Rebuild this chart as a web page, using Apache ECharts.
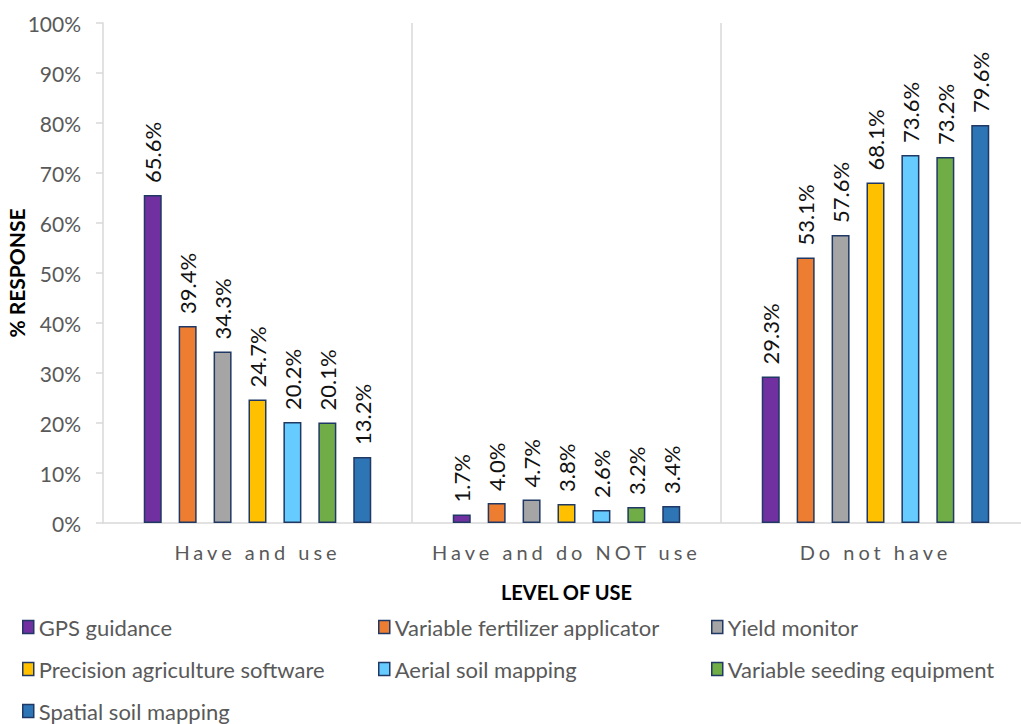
<!DOCTYPE html>
<html><head><meta charset="utf-8">
<script src="https://cdn.jsdelivr.net/npm/echarts@6/dist/echarts.min.js"></script>
<style>html,body{margin:0;padding:0;background:#fff;overflow:hidden;width:1021px;height:724px}#c{width:1030px;height:724px}</style>
</head><body><div id="c"></div>
<script>
const categories = ['Have and use', 'Have and do NOT use', 'Do not have'];
const seriesNames = ['GPS guidance', 'Variable fertilizer applicator', 'Yield monitor', 'Precision agriculture software', 'Aerial soil mapping', 'Variable seeding equipment', 'Spatial soil mapping'];
const gpsGuidance = [65.6, 1.7, 29.3];
const variableFertilizer = [39.4, 4.0, 53.1];
const yieldMonitor = [34.3, 4.7, 57.6];
const precisionSoftware = [24.7, 3.8, 68.1];
const aerialSoil = [20.2, 2.6, 73.6];
const variableSeeding = [20.1, 3.2, 73.2];
const spatialSoil = [13.2, 3.4, 79.6];
const yTicks = [0, 10, 20, 30, 40, 50, 60, 70, 80, 90, 100];
const colors = ['#7030A0', '#ED7D31', '#A5A5A5', '#FFC000', '#66CCFF', '#70AD47', '#2E75B6'];
const values = [gpsGuidance, variableFertilizer, yieldMonitor, precisionSoftware, aerialSoil, variableSeeding, spatialSoil];

const FONT = 'Lato';
const chart = echarts.init(document.getElementById('c'), null, { renderer: 'svg' });
const legendText = { fontFamily: FONT, fontSize: 22, color: '#595959' };
function legend(names, left) {
  return { data: names, orient: 'vertical', left: left, top: 616, height: 140, padding: 0, itemGap: 20, itemWidth: 11, itemHeight: 13,
    icon: 'rect', itemStyle: { borderColor: '#1F3864', borderWidth: 1.5 }, textStyle: legendText, selectedMode: false };
}
chart.setOption({
  animation: false,
  textStyle: { fontFamily: FONT },
  grid: { left: 103, top: 23, right: 0, bottom: 201, containLabel: false, outerBoundsMode: 'none' },
  legend: [
    legend([seriesNames[0], seriesNames[3], seriesNames[6]], 22),
    legend([seriesNames[1], seriesNames[4]], 378),
    legend([seriesNames[2], seriesNames[5]], 711)
  ],
  xAxis: {
    type: 'category', data: categories,
    name: 'LEVEL OF USE', nameLocation: 'middle', nameGap: 59, nameMoveOverlap: false,
    nameTextStyle: { fontFamily: FONT, fontSize: 20, fontWeight: 'bold', color: '#000' },
    axisLine: { lineStyle: { color: '#D9D9D9', width: 1.5 } },
    axisTick: { show: false },
    axisLabel: { fontFamily: FONT, fontSize: 20, color: '#595959', margin: 19 },
    splitLine: { show: true, showMinLine: false, showMaxLine: false, lineStyle: { color: '#D9D9D9', width: 1.5 } }
  },
  yAxis: {
    type: 'value', min: 0, max: 100, interval: 10,
    name: '% RESPONSE', nameLocation: 'middle', nameGap: 76, nameRotate: 90, nameMoveOverlap: false,
    nameTextStyle: { fontFamily: FONT, fontSize: 21, fontWeight: 'bold', color: '#000' },
    axisLine: { show: true, lineStyle: { color: '#D9D9D9', width: 1.5 } },
    axisTick: { show: true, length: 7, lineStyle: { color: '#D9D9D9', width: 1.5 } },
    axisLabel: { fontFamily: FONT, fontSize: 21, color: '#595959', margin: 22,
      formatter: v => yTicks.includes(v) ? v + '%' : '' },
    splitLine: { show: false }
  },
  series: seriesNames.map((n, i) => ({
    name: n, type: 'bar', data: values[i],
    barWidth: 18, barGap: '94%', barCategoryGap: '26%',
    itemStyle: { color: colors[i], borderColor: '#1F3864', borderWidth: 1.5 },
    label: { show: true, position: 'top', rotate: 90, align: 'left', verticalAlign: 'middle', distance: 12,
      fontFamily: FONT, fontSize: 22, color: '#111',
      formatter: p => p.value.toFixed(1) + '%' }
  }))
});
// Category labels in the reference are letter-spaced
function spaceCategoryLabels() {
  document.querySelectorAll('#c svg text').forEach(t => {
    if (categories.includes(t.textContent.trim())) t.style.letterSpacing = '4px';
  });
}
chart.on('finished', spaceCategoryLabels);
spaceCategoryLabels();
</script></body></html>
